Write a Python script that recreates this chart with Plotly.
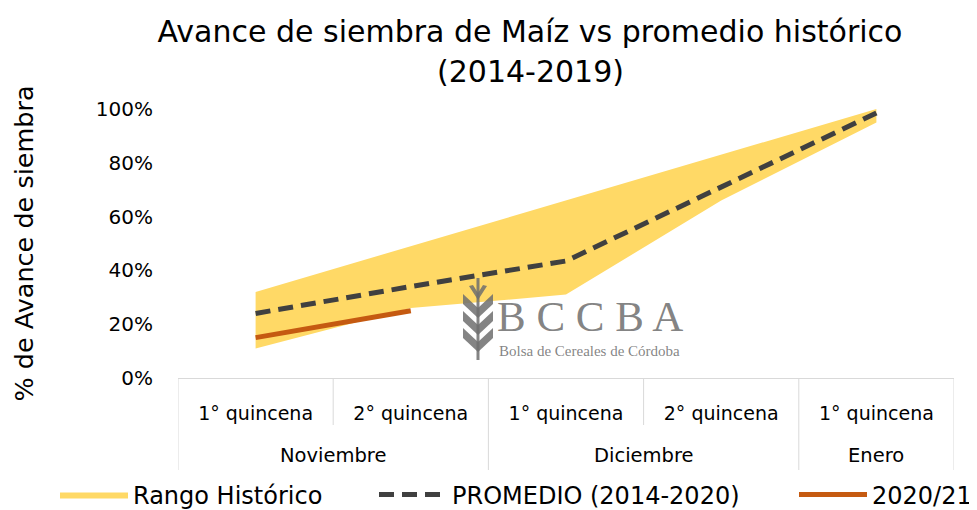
import plotly.graph_objects as go

months = ["Noviembre", "Diciembre", "Enero"]
month_span = [(0, 1), (2, 3), (4, 4)]
quincenas = ["1° quincena", "2° quincena", "1° quincena", "2° quincena", "1° quincena"]
rango_min = [0.11, 0.26, 0.31, 0.66, 0.95]
rango_max = [0.32, 0.49, 0.66, 0.83, 1.00]
promedio = [0.24, 0.34, 0.435, 0.71, 0.985]
actual = [0.15, 0.25]
title_lines = ["Avance de siembra de Maíz vs promedio histórico", "(2014-2019)"]

FONT = "DejaVu Sans, Verdana, sans-serif"
OFF = 8  # page body margin
W, H = 977 - OFF, 510 - OFF
L, R, T, B = 178 - OFF, 23, 109 - OFF, 132
PW, PH = W - L - R, H - T - B

def px(x):  # reference-image x pixel -> paper
    return (x - OFF - L) / PW

def py(y):  # reference-image y pixel -> paper
    return (H - B - (y - OFF)) / PH

xpos = list(range(len(quincenas)))
fig = go.Figure()
fig.add_trace(go.Scatter(x=xpos, y=rango_min, mode="lines", line=dict(width=0, color="#FFD966"),
                         showlegend=False, hoverinfo="skip"))
fig.add_trace(go.Scatter(x=xpos, y=rango_max, mode="lines", line=dict(width=0, color="#FFD966"),
                         fill="tonexty", fillcolor="#FFD966", name="Rango Histórico", legend="legend"))
fig.add_trace(go.Scatter(x=xpos, y=promedio, mode="lines", line=dict(width=5, color="#404040", dash="15px,8px"),
                         name="PROMEDIO (2014-2020)", legend="legend2"))
fig.add_trace(go.Scatter(x=xpos[:len(actual)], y=actual, mode="lines",
                         line=dict(width=5, color="#C55A11"), name="2020/21", legend="legend3"))

gray = "rgba(110,110,110,0.85)"
serif = "Liberation Serif, DejaVu Serif, serif"
fig.add_annotation(xref="paper", yref="paper", x=px(590), y=py(316), text="B C C B A", showarrow=False,
                   xanchor="center", yanchor="middle", font=dict(family=serif, size=43, color=gray))
fig.add_annotation(xref="paper", yref="paper", x=px(589), y=py(351), text="Bolsa de Cereales de Córdoba",
                   showarrow=False, xanchor="center", yanchor="middle",
                   font=dict(family=serif, size=15, color=gray))

def path(points):
    return "M " + " L ".join(f"{px(a):.5f},{py(b):.5f}" for a, b in points) + " Z"

sx = 478
fig.add_shape(type="path", xref="paper", yref="paper",
              path=path([(sx - 1.5, 278), (sx + 1.5, 278), (sx + 1.5, 360), (sx - 1.5, 360)]),
              fillcolor=gray, line=dict(width=0), layer="above")
for yy in [300, 317, 334]:
    fig.add_shape(type="path", xref="paper", yref="paper",
                  path=path([(sx, yy + 8), (sx - 15, yy - 6), (sx - 15, yy + 4), (sx, yy + 18)]),
                  fillcolor=gray, line=dict(width=0), layer="above")
    fig.add_shape(type="path", xref="paper", yref="paper",
                  path=path([(sx, yy + 8), (sx + 15, yy - 6), (sx + 15, yy + 4), (sx, yy + 18)]),
                  fillcolor=gray, line=dict(width=0), layer="above")
fig.add_shape(type="path", xref="paper", yref="paper",
              path=path([(sx, 300), (sx - 9, 286), (sx - 5, 285), (sx, 293), (sx + 5, 285), (sx + 9, 286)]),
              fillcolor=gray, line=dict(width=0), layer="above")

# category boundary lines of the two-level axis
axis_gray = "#D9D9D9"
for i in range(len(quincenas) + 1):
    xb = i - 0.5
    depth = 47 if i in (1, 3) else 92
    fig.add_shape(type="line", xref="x", yref="paper", x0=xb, x1=xb, y0=0, y1=-depth / PH,
                  line=dict(color=axis_gray, width=1))

for name, (a, b) in zip(months, month_span):
    fig.add_annotation(xref="x", yref="paper", x=(a + b) / 2, y=py(455), text=name, showarrow=False,
                       xanchor="center", yanchor="middle",
                       font=dict(family=FONT, size=19.5, color="#000000"))

# second title line
fig.add_annotation(xref="paper", yref="paper", x=px(530), y=py(72), text=title_lines[1], showarrow=False,
                   xanchor="center", yanchor="middle", font=dict(family=FONT, size=30, color="#000000"))

legend_common = dict(orientation="h", yanchor="middle", xanchor="left", bgcolor="rgba(0,0,0,0)",
                     font=dict(family=FONT, size=24, color="#000000"), itemwidth=68)

fig.update_layout(
    width=W, height=H,
    margin=dict(l=L, r=R, t=T, b=B, autoexpand=False),
    paper_bgcolor="white", plot_bgcolor="white",
    title=dict(text=title_lines[0],
               x=(530 - OFF) / W, xanchor="center", y=1 - (31 - OFF) / H, yanchor="middle",
               font=dict(family=FONT, size=30, color="#000000")),
    xaxis=dict(range=[-0.5, 4.5], tickvals=xpos, ticktext=quincenas, showline=True,
               linecolor=axis_gray, linewidth=1, showgrid=False, zeroline=False, ticks="",
               ticklabelstandoff=18, automargin=False,
               tickfont=dict(family=FONT, size=19, color="#000000")),
    yaxis=dict(range=[0, 1], tickvals=[0, 0.2, 0.4, 0.6, 0.8, 1.0], tickformat=".0%",
               showgrid=False, zeroline=False, showline=False, ticks="",
               ticklabelstandoff=24, automargin=False,
               tickfont=dict(family=FONT, size=20, color="#000000"),
               title=dict(text="% de Avance de siembra", standoff=54,
                          font=dict(family=FONT, size=25.5, color="#000000"))),
    legend=dict(x=px(55), y=py(495), **legend_common),
    legend2=dict(x=px(374), y=py(495), **legend_common),
    legend3=dict(x=px(794), y=py(495), **legend_common),
    showlegend=True,
)

fig.write_html("out.html")
